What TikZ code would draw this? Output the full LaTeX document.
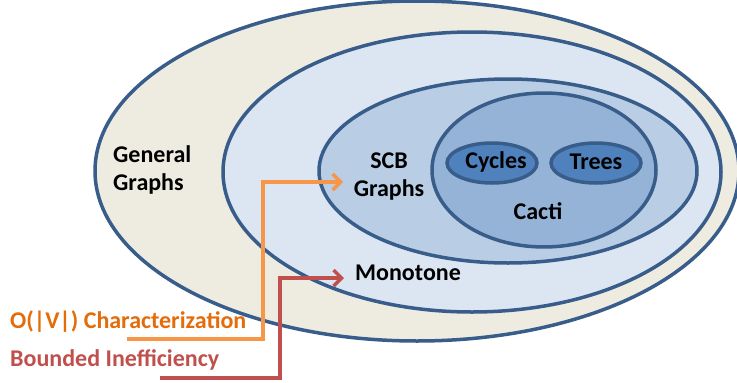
\documentclass[tikz,border=0pt]{standalone}
\usepackage{fontspec}
\setmainfont{Carlito}
\usetikzlibrary{arrows.meta}
\definecolor{edgeblue}{HTML}{385D8A}
\definecolor{fillA}{HTML}{EEECE1}
\definecolor{fillB}{HTML}{DCE6F2}
\definecolor{fillC}{HTML}{B9CDE5}
\definecolor{fillD}{HTML}{95B3D7}
\definecolor{fillE}{HTML}{4F81BD}
\definecolor{orangeline}{HTML}{F79646}
\definecolor{orangetext}{HTML}{E46C0A}
\definecolor{redline}{HTML}{C0504D}
\tikzset{
  set/.style={draw=edgeblue, line width=3.5pt},
  lbl/.style={font=\fontsize{24}{28}\selectfont\bfseries, text=black, inner sep=0pt, align=center},
  conn/.style={line width=3.5pt, -{Straight Barb[length=8pt,width=16pt,line width=3.5pt]}},
}
\begin{document}
\begin{tikzpicture}[x=1pt,y=-1pt]
\useasboundingbox (0,0) rectangle (737,383);
\fill[white] (0,0) rectangle (737,383);
\draw[set, fill=fillA] (417,171) ellipse [x radius=322, y radius=170];
\draw[set, fill=fillB] (472,172) ellipse [x radius=249, y radius=140];
\draw[set, fill=fillC] (508,171) ellipse [x radius=189, y radius=92];
\draw[set, fill=fillD] (544,170) ellipse [x radius=112, y radius=77];
\draw[set, fill=fillE] (492,163) ellipse [x radius=45, y radius=20];
\draw[set, fill=fillE] (596,163) ellipse [x radius=45, y radius=20];

\node[lbl, align=left, anchor=west] (gen) at (113,170) {General\\Graphs};
\node[lbl] (scb) at (389,177) {SCB\\Graphs};
\node[lbl] (cyc) at (496,162) {Cycles};
\node[lbl] (tre) at (596,162) {Trees};
\node[lbl] (cac) at (538,211) {Cacti};
\node[lbl, anchor=west] (mono) at (355,273) {Monotone};
\node[lbl, anchor=west, text=orangetext] (oc) at (10,322) {O(|V|) Characterization};
\node[lbl, anchor=west, text=redline] (bi) at (10,360) {Bounded Inefficiency};

\coordinate (o0) at (127,339);
\coordinate (o1) at (263,339);
\coordinate (o2) at (263,182);
\coordinate (otip) at (343,182);
\coordinate (r0) at (160,378);
\coordinate (r1) at (280,378);
\coordinate (r2) at (280,278);
\coordinate (rtip) at (344,278);
\draw[conn, orangeline] (o0) -- (o1) -- (o2) -- (otip);
\draw[conn, redline] (r0) -- (r1) -- (r2) -- (rtip);
\end{tikzpicture}
\end{document}
